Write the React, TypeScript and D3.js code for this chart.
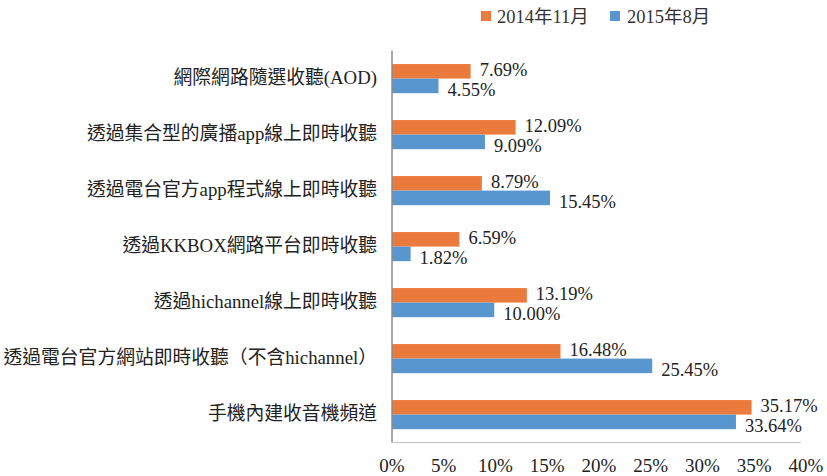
import React from "react";
import * as d3 from "d3";

const categories = [
  "網際網路隨選收聽(AOD)",
  "透過集合型的廣播app線上即時收聽",
  "透過電台官方app程式線上即時收聽",
  "透過KKBOX網路平台即時收聽",
  "透過hichannel線上即時收聽",
  "透過電台官方網站即時收聽（不含hichannel）",
  "手機內建收音機頻道",
];
const series2014 = [7.69, 12.09, 8.79, 6.59, 13.19, 16.48, 35.17];
const series2015 = [4.55, 9.09, 15.45, 1.82, 10.0, 25.45, 33.64];
const seriesNames = ["2014年11月", "2015年8月"];
const ticks = [0, 5, 10, 15, 20, 25, 30, 35, 40];

const W = 827;
const H = 476;
const ORANGE = "#EB7B3C";
const BLUE = "#5896D0";
const FONT = "'Liberation Serif', 'Times New Roman', 'Noto Sans CJK TC', serif";

export default function App() {
  const x = d3.scaleLinear().domain([0, 40]).range([392, 801]);
  const y = d3.scaleBand<string>().domain(categories).range([50.6, 442.6]).paddingInner(0.48).paddingOuter(0.24);
  const bh = y.bandwidth() / 2;

  return (
    <div style={{ position: "fixed", left: 0, top: 0 }}>
      <svg width={W} height={H} style={{ display: "block", background: "#fff" }} fontFamily={FONT}>
        {/* legend */}
        <rect x={481} y={11} width={10} height={10} fill={ORANGE} />
        <text x={497} y={22.5} fontSize={18.5} fill="#333">{seriesNames[0]}</text>
        <rect x={610} y={11} width={10} height={10} fill={BLUE} />
        <text x={627} y={22.5} fontSize={18.5} fill="#333">{seriesNames[1]}</text>

        {categories.map((c, i) => {
          const y0 = y(c)!;
          const center = y0 + bh;
          return (
            <g key={c}>
              <text x={377} y={center + 5} fontSize={18.8} textAnchor="end" fill="#222">{c}</text>
              <rect x={x(0)} y={y0} width={x(series2014[i]) - x(0)} height={bh} fill={ORANGE} />
              <rect x={x(0)} y={y0 + bh} width={x(series2015[i]) - x(0)} height={bh} fill={BLUE} />
              <text x={x(series2014[i]) + 9} y={y0 + bh - 3} fontSize={18.5} fill="#222">
                {series2014[i].toFixed(2)}%
              </text>
              <text x={x(series2015[i]) + 9} y={y0 + 2 * bh + 2.5} fontSize={18.5} fill="#222">
                {series2015[i].toFixed(2)}%
              </text>
            </g>
          );
        })}

        {/* axes */}
        <line x1={x(0)} x2={x(0)} y1={50.6} y2={442.6} stroke="#8c8c8c" strokeWidth={1.5} />
        <line x1={x(0)} x2={x(40)} y1={442.6} y2={442.6} stroke="#bfbfbf" strokeWidth={1} />
        {ticks.map((t) => (
          <text key={t} x={x(t) + t * 0.12} y={472} fontSize={19} textAnchor="middle" fill="#222">
            {t}%
          </text>
        ))}
      </svg>
    </div>
  );
}
